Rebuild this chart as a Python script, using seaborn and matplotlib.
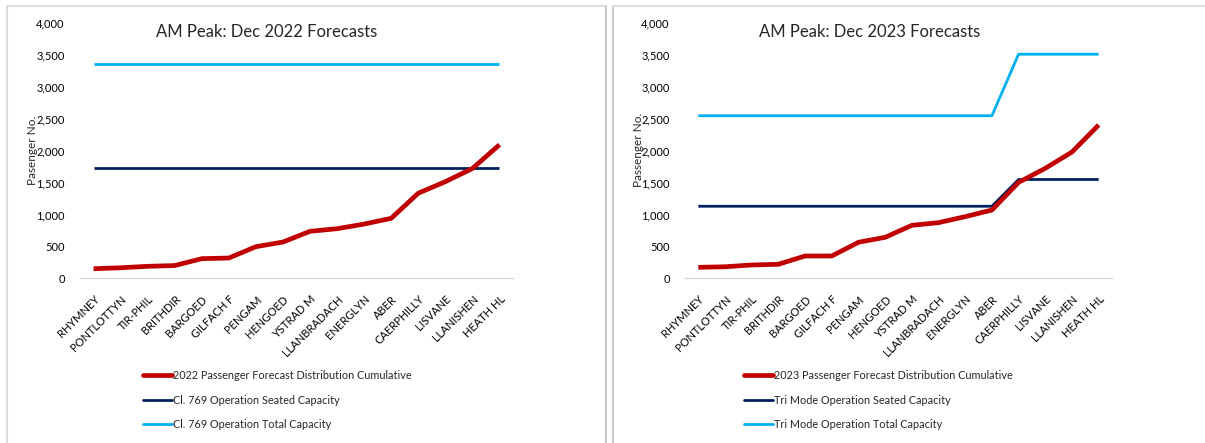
import numpy as np
import pandas as pd
import matplotlib
matplotlib.use("Agg")
import matplotlib.pyplot as plt
import seaborn as sns
from matplotlib.ticker import StrMethodFormatter
from matplotlib.lines import Line2D

sns.set_style("white")
plt.rcParams['font.family'] = ['Lato', 'DejaVu Sans']

stations = ["RHYMNEY", "PONTLOTTYN", "TIR-PHIL", "BRITHDIR", "BARGOED", "GILFACH F",
            "PENGAM", "HENGOED", "YSTRAD M", "LLANBRADACH", "ENERGLYN", "ABER",
            "CAERPHILLY", "LISVANE", "LLANISHEN", "HEATH HL"]

# Dec 2022
forecast_2022 = [150, 165, 188, 200, 308, 318, 496, 569, 737, 778, 851, 941,
                 1335, 1516, 1722, 2095]
seated_2022 = [1730] * 16
total_2022 = [3360] * 16

# Dec 2023
forecast_2023 = [172, 181, 209, 220, 350, 350, 565, 643, 831, 873, 967, 1071,
                 1505, 1725, 1981, 2405]
seated_2023 = [1130] * 12 + [1550] * 4
total_2023 = [2550] * 12 + [3515] * 4

RED = "#C00000"
NAVY = "#002060"
LIGHT = "#00B0F0"

W, H = 1205, 443
fig = plt.figure(figsize=(W / 100, H / 100), dpi=100)


def px(x0, y_top, x1, y_bot):
    return [x0 / W, 1 - y_bot / H, (x1 - x0) / W, (y_bot - y_top) / H]


panels = [
    dict(rect=px(80, 23.3, 513, 278.3), title="AM Peak: Dec 2022 Forecasts", title_x=267,
         ylabel="Pasenger No.", ylabel_x=32,
         series=[(forecast_2022, "2022 Passenger Forecast Distribution Cumulative", RED, 3.4),
                 (seated_2022, "Cl. 769 Operation Seated Capacity", NAVY, 2.0),
                 (total_2022, "Cl. 769 Operation Total Capacity", LIGHT, 2.0)],
         leg_x=143),
    dict(rect=px(685, 23.3, 1112, 278.3), title="AM Peak: Dec 2023 Forecasts", title_x=870,
         ylabel="Passenger No.", ylabel_x=638,
         series=[(forecast_2023, "2023 Passenger Forecast Distribution Cumulative", RED, 3.4),
                 (seated_2023, "Tri Mode Operation Seated Capacity", NAVY, 2.0),
                 (total_2023, "Tri Mode Operation Total Capacity", LIGHT, 2.0)],
         leg_x=744),
]

for p in panels:
    ax = fig.add_axes(p["rect"])
    pos = np.arange(len(stations))
    handles = []
    # draw in reverse so the forecast line sits on top
    for vals, label, color, lw in reversed(p["series"]):
        df = pd.DataFrame({"pos": pos, "value": vals})
        sns.lineplot(data=df, x="pos", y="value", color=color, linewidth=lw, ax=ax,
                     sort=False, solid_capstyle="butt")
    for vals, label, color, lw in p["series"]:
        handles.append(Line2D([], [], color=color, linewidth=lw, label=label))

    ax.set_xlim(-0.5, len(stations) - 0.5)
    ax.set_ylim(0, 4000)
    ax.set_yticks(np.arange(0, 4001, 500))
    ax.yaxis.set_major_formatter(StrMethodFormatter("{x:,.0f}"))
    ax.set_xticks(pos)
    ax.set_xticklabels(stations, rotation=45, ha="right", rotation_mode="anchor")
    ax.tick_params(axis="both", length=0, labelsize=8, colors="#000000")
    ax.tick_params(axis="x", pad=11)
    ax.tick_params(axis="y", pad=11)
    for s in ["top", "right", "left"]:
        ax.spines[s].set_visible(False)
    ax.spines["bottom"].set_color("#D9D9D9")
    ax.spines["bottom"].set_linewidth(1.0)
    ax.set_xlabel("")
    ax.set_ylabel("")
    ax.grid(False)

    fig.text(p["title_x"] / W, 1 - 32 / H, p["title"], ha="center", va="center", fontsize=12)
    fig.text(p["ylabel_x"] / W, 1 - 150 / H, p["ylabel"], ha="center", va="center",
             rotation=90, fontsize=8.5)

    fig.legend(handles=handles, loc="upper left",
               bbox_to_anchor=(p["leg_x"] / W, 1 - 370 / H),
               frameon=False, fontsize=7.8, handlelength=2.7, handletextpad=0.1,
               labelspacing=1.25, borderpad=0, borderaxespad=0)

# chart frames
frame = "#C9C9C9"
fig.add_artist(Line2D([7 / W, 7 / W], [0, 1 - 6 / H], transform=fig.transFigure,
                      color="#DDDDDD", linewidth=1.5))
fig.add_artist(Line2D([7 / W, 606 / W], [1 - 6 / H, 1 - 6 / H], transform=fig.transFigure,
                      color="#DDDDDD", linewidth=1.5))
fig.add_artist(Line2D([606 / W, 606 / W], [0, 1 - 6 / H], transform=fig.transFigure,
                      color=frame, linewidth=1.5))
fig.add_artist(Line2D([613 / W, 613 / W], [0, 1 - 6 / H], transform=fig.transFigure,
                      color=frame, linewidth=1.5))
fig.add_artist(Line2D([613 / W, 1], [1 - 6 / H, 1 - 6 / H], transform=fig.transFigure,
                      color="#DDDDDD", linewidth=1.5))

fig.savefig("out.png", dpi=100)
